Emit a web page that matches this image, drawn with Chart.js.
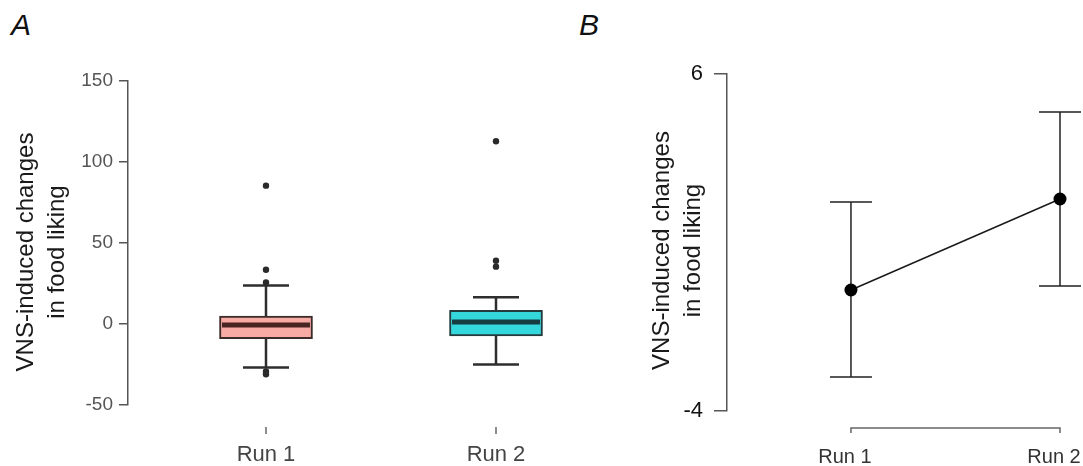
<!DOCTYPE html>
<html>
<head>
<meta charset="utf-8">
<script src="https://cdn.jsdelivr.net/npm/chart.js@4/dist/chart.umd.min.js"></script>
<style>
  body { margin: 0; background: #fff; width: 1083px; height: 466px; overflow: hidden; position: relative; font-family: "Liberation Sans", Arial, sans-serif; }
  canvas { position: absolute; top: 0; }
  .panel { position: absolute; top: 10px; font-size: 30px; line-height: 30px; font-style: italic; color: #111; }
</style>
</head>
<body>
<div class="panel" style="left:11px">A</div>
<div class="panel" style="left:579px">B</div>
<canvas id="boxChart" width="600" height="466" style="left:0;width:600px;height:466px"></canvas>
<canvas id="meanChart" width="600" height="466" style="left:560px;width:600px;height:466px"></canvas>
<script>
// Data
const categories = ['Run 1', 'Run 2'];
const yTitle = ['VNS-induced changes', 'in food liking'];

// panel A, box plots
const boxQ1 = [-9.0, -7.3];
const boxMedian = [-0.6, 1.2];
const boxQ3 = [4.9, 8.5];
const whiskerLow = [-26.8, -25.0];
const whiskerHigh = [23.8, 16.5];
const outliersRun1 = [85.4, 33.5, 25.6, -29.3, -31.0];
const outliersRun2 = [112.8, 39.0, 35.4];

// panel B, mean and error bars
const meanChange = [-0.41, 2.29];
const errLow = [-2.99, -0.29];
const errHigh = [2.20, 4.87];

const boxFill = ['#f8aaa5', '#33d7dc'];
const boxEdge = ['#3d2b29', '#243a3c'];
const medianColor = ['#4a2622', '#173c40'];
const FONT = '"Liberation Sans", Arial, sans-serif';

Chart.defaults.font.family = FONT;
Chart.defaults.animation = false;

// rotated two-line axis title, sits a little below the axis centre like the original
function drawYTitle(chart, x, shift) {
    const ctx = chart.ctx;
    const area = chart.chartArea;
    ctx.save();
    ctx.translate(x, (area.top + area.bottom) / 2 + shift);
    ctx.rotate(-Math.PI / 2);
    ctx.font = '24px ' + FONT;
    ctx.fillStyle = '#1a1a1a';
    ctx.textAlign = 'center';
    ctx.textBaseline = 'middle';
    yTitle.forEach((line, i) => ctx.fillText(line, 0, i * 31));
    ctx.restore();
}

// whiskers behind the boxes, medians and small category ticks on top
const boxParts = {
    id: 'boxParts',
    beforeDatasetsDraw(chart) {
        const ctx = chart.ctx;
        const x = chart.scales.x, y = chart.scales.y;
        ctx.save();
        ctx.strokeStyle = '#2e2e2e';
        ctx.lineWidth = 2.5;
        categories.forEach((c, i) => {
            const px = x.getPixelForValue(i + 1);
            ctx.beginPath();
            ctx.moveTo(px, y.getPixelForValue(whiskerHigh[i]));
            ctx.lineTo(px, y.getPixelForValue(whiskerLow[i]));
            [whiskerHigh[i], whiskerLow[i]].forEach(v => {
                const py = y.getPixelForValue(v);
                ctx.moveTo(px - 23, py);
                ctx.lineTo(px + 23, py);
            });
            ctx.stroke();
        });
        ctx.restore();
    },
    afterDatasetsDraw(chart) {
        const ctx = chart.ctx;
        const x = chart.scales.x, y = chart.scales.y;
        ctx.save();
        categories.forEach((c, i) => {
            const px = x.getPixelForValue(i + 1);
            const py = y.getPixelForValue(boxMedian[i]);
            ctx.strokeStyle = medianColor[i];
            ctx.lineWidth = 5;
            ctx.beginPath();
            ctx.moveTo(px - 44, py);
            ctx.lineTo(px + 44, py);
            ctx.stroke();
            // little tick under each category
            ctx.strokeStyle = '#666';
            ctx.lineWidth = 1.5;
            ctx.beginPath();
            ctx.moveTo(px, chart.chartArea.bottom + 22);
            ctx.lineTo(px, chart.chartArea.bottom + 29);
            ctx.stroke();
        });
        ctx.restore();
    },
    afterDraw(chart) {
        drawYTitle(chart, 26, 9);
    }
};

new Chart(document.getElementById('boxChart'), {
    type: 'bar',
    data: {
        datasets: [
            {
                type: 'scatter',
                data: outliersRun1.map(v => ({ x: 1, y: v }))
                    .concat(outliersRun2.map(v => ({ x: 2, y: v }))),
                pointRadius: 3.2,
                pointBackgroundColor: '#2a2a2a',
                pointBorderWidth: 0
            },
            {
                data: categories.map((c, i) => ({ x: i + 1, y: [boxQ1[i], boxQ3[i]] })),
                backgroundColor: boxFill,
                borderColor: boxEdge,
                borderWidth: 2,
                borderSkipped: false,
                barThickness: 93
            }
        ]
    },
    options: {
        responsive: false,
        layout: { padding: { top: 81, right: 35, bottom: 0, left: 0 } },
        plugins: { legend: { display: false }, tooltip: { enabled: false } },
        scales: {
            x: {
                type: 'linear',
                bounds: 'data',
                offset: false,
                min: 0.4,
                max: 2.3,
                grid: { display: false, drawTicks: false },
                border: { display: false },
                afterBuildTicks: s => { s.ticks = categories.map((c, i) => ({ value: i + 1 })); },
                ticks: {
                    callback: v => categories[v - 1],
                    color: '#444',
                    font: { size: 22 },
                    padding: 37,
                    maxRotation: 0
                },
                afterFit: s => { s.height = 61; }
            },
            y: {
                min: -50,
                max: 150,
                ticks: { stepSize: 50, color: '#555', font: { size: 19 }, padding: 6 },
                grid: { drawOnChartArea: false, tickLength: 9, color: '#555', lineWidth: 1.5 },
                border: { color: '#555', width: 1.5 },
                afterFit: s => { s.width = 128; }
            }
        }
    },
    plugins: [boxParts]
});

// error bars and the bracket-style x axis for panel B
const errorBars = {
    id: 'errorBars',
    beforeDatasetsDraw(chart) {
        const ctx = chart.ctx;
        const x = chart.scales.x, y = chart.scales.y;
        ctx.save();
        ctx.strokeStyle = '#222';
        ctx.lineWidth = 1.5;
        categories.forEach((c, i) => {
            const px = x.getPixelForValue(i + 1);
            const top = y.getPixelForValue(errHigh[i]);
            const bot = y.getPixelForValue(errLow[i]);
            ctx.beginPath();
            ctx.moveTo(px, top);
            ctx.lineTo(px, bot);
            ctx.moveTo(px - 21, top);
            ctx.lineTo(px + 21, top);
            ctx.moveTo(px - 21, bot);
            ctx.lineTo(px + 21, bot);
            ctx.stroke();
        });
        // axis bracket from first to last category
        const x1 = x.getPixelForValue(1), x2 = x.getPixelForValue(categories.length);
        const ay = chart.chartArea.bottom + 17;
        ctx.strokeStyle = '#666';
        ctx.beginPath();
        ctx.moveTo(x1, ay + 5);
        ctx.lineTo(x1, ay);
        ctx.lineTo(x2, ay);
        ctx.lineTo(x2, ay + 5);
        ctx.stroke();
        ctx.restore();
    },
    afterDraw(chart) {
        drawYTitle(chart, 102, 8);
    }
};

new Chart(document.getElementById('meanChart'), {
    type: 'line',
    data: {
        datasets: [{
            data: categories.map((c, i) => ({ x: i + 1, y: meanChange[i] })),
            borderColor: '#1a1a1a',
            borderWidth: 1.5,
            pointRadius: 6.5,
            pointBackgroundColor: '#000',
            pointBorderWidth: 0,
            clip: false
        }]
    },
    options: {
        responsive: false,
        layout: { padding: { top: 74, right: 77, bottom: 0, left: 0 } },
        plugins: { legend: { display: false }, tooltip: { enabled: false } },
        scales: {
            x: {
                type: 'linear',
                bounds: 'data',
                min: 0.407,
                max: 2.11,
                grid: { display: false, drawTicks: false },
                border: { display: false },
                afterBuildTicks: s => { s.ticks = categories.map((c, i) => ({ value: i + 1 })); },
                ticks: {
                    callback: v => categories[v - 1],
                    color: '#333',
                    font: { size: 20 },
                    padding: 34,
                    labelOffset: -6,
                    maxRotation: 0
                },
                afterFit: s => { s.height = 55; }
            },
            y: {
                min: -4,
                max: 6,
                afterBuildTicks: s => { s.ticks = [{ value: -4 }, { value: 6 }]; },
                ticks: { color: '#111', font: { size: 22 }, padding: 11 },
                grid: { drawOnChartArea: false, tickLength: 13, color: '#555', lineWidth: 1.5 },
                border: { color: '#555', width: 1.5 },
                afterFit: s => { s.width = 167; }
            }
        }
    },
    plugins: [errorBars]
});
</script>
</body>
</html>
